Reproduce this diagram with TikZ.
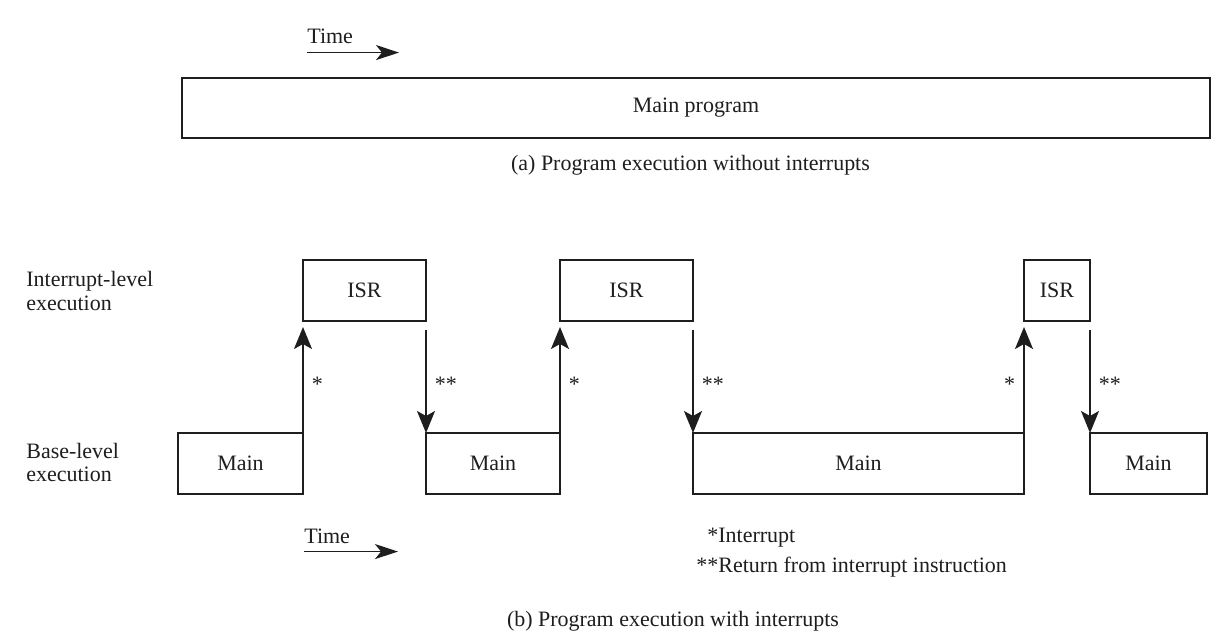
\documentclass[tikz,border=0pt]{standalone}
\usepackage{fontspec}
\setmainfont{Liberation Serif}
\usetikzlibrary{positioning,arrows.meta}
\definecolor{ink}{RGB}{30,30,30}

\begin{document}
\begin{tikzpicture}[block/.style = {draw, line width=1.5pt, outer sep=0pt, inner sep=0pt, minimum height=1.22cm},
                    flow/.style = {-{Stealth[length=0.44cm,width=0.36cm,inset=0.1cm]}, line width=0.9pt},
                    timeline/.style = {-{Stealth[length=0.46cm,width=0.3cm,inset=0.12cm]}, line width=1pt},
                    starr/.style = {right=0.16cm, yshift=-0.14cm, inner sep=0pt},
                    starl/.style = {left=0.16cm, yshift=-0.14cm, inner sep=0pt},
                    color=ink, font=\fontsize{12.5pt}{13.6pt}\selectfont]
    \fill[white] (0,0) rectangle (24.54,12.72);
    \useasboundingbox (0,0) rectangle (24.54,12.72);

    % (a) one long run of the main program
    \node[anchor=base west, inner sep=0pt] (timea) at (6.14,11.85) {Time};
    \coordinate[below=0.17cm of timea.south west] (ta1);
    \coordinate[right=1.84cm of ta1] (ta2);
    \draw[timeline] (ta1) -- (ta2);
    \node[block, anchor=north west, minimum width=20.56cm, minimum height=1.2cm] (prog) at (3.64,11.16) {Main program};
    \node (capa) at (13.81,9.41) {(a) Program execution without interrupts};

    % (b) levels
    \node[align=left, anchor=west, inner sep=0pt] (intlvl) at (0.52,6.90) {Interrupt-level\\execution};
    \node[align=left, anchor=west, inner sep=0pt] (baselvl) at (0.52,3.47) {Base-level\\execution};

    % base level and service routines, corner to corner
    \node[block, anchor=north west, minimum width=2.5cm] (main1) at (3.56,4.06) {Main};
    \node[block, minimum width=2.46cm, above right=2.24cm and 0cm of main1] (isr1) {ISR};
    \node[block, minimum width=2.68cm, below right=2.24cm and 0cm of isr1] (main2) {Main};
    \node[block, minimum width=2.66cm, above right=2.24cm and 0cm of main2] (isr2) {ISR};
    \node[block, minimum width=6.62cm, below right=2.24cm and 0cm of isr2] (main3) {Main};
    \node[block, minimum width=1.32cm, above right=2.24cm and 0cm of main3] (isr3) {ISR};
    \node[block, minimum width=2.34cm, below right=2.24cm and 0cm of isr3] (main4) {Main};

    % interrupts up, returns down
    \draw[flow, shorten >=0.12cm] (main1.north east) -- node[starr] {*} (isr1.south west);
    \draw[flow, shorten <=0.18cm] (isr1.south east) -- node[starr] {**} (main2.north west);
    \draw[flow, shorten >=0.12cm] (main2.north east) -- node[starr] {*} (isr2.south west);
    \draw[flow, shorten <=0.18cm] (isr2.south east) -- node[starr] {**} (main3.north west);
    \draw[flow, shorten >=0.12cm] (main3.north east) -- node[starl] {*} (isr3.south west);
    \draw[flow, shorten <=0.18cm] (isr3.south east) -- node[starr] {**} (main4.north west);

    % time and notes
    \node[anchor=base west, inner sep=0pt] (timeb) at (6.08,1.86) {Time};
    \coordinate[below=0.16cm of timeb.south west] (tb1);
    \coordinate[right=1.88cm of tb1] (tb2);
    \draw[timeline] (tb1) -- (tb2);
    \node[anchor=base west, inner sep=0pt] (note1) at (14.36,1.88) {\llap{*}Interrupt};
    \node[anchor=base west, inner sep=0pt] (note2) at ([yshift=-0.6cm]note1.base west) {\llap{**}Return from interrupt instruction};
    \node (capb) at (13.46,0.30) {(b) Program execution with interrupts};
\end{tikzpicture}
\end{document}
